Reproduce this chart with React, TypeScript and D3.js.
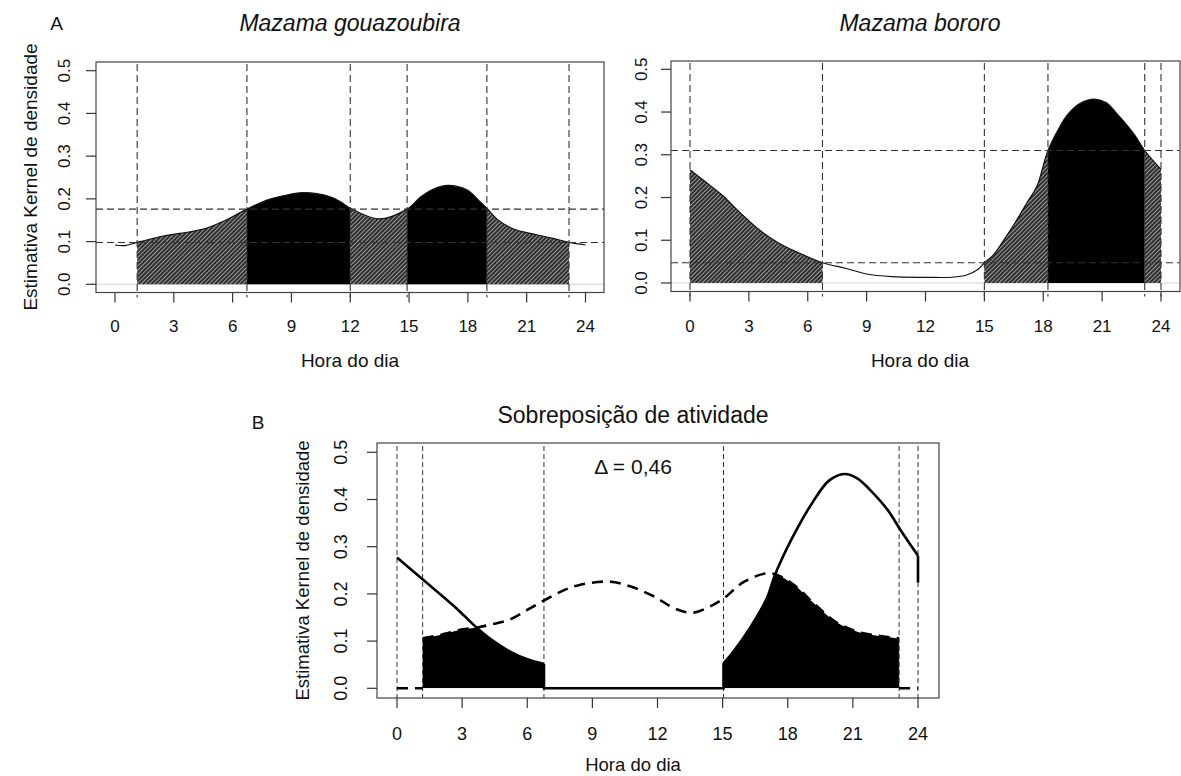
import React from "react";
import * as d3 from "d3";

// ---------- shared axis data ----------
const hourTicks = [0, 3, 6, 9, 12, 15, 18, 21, 24];
const densityTicks = [0, 0.1, 0.2, 0.3, 0.4, 0.5];
const densityTickLabels = ["0.0", "0.1", "0.2", "0.3", "0.4", "0.5"];

// ---------- Panel A: Mazama gouazoubira ----------
const gouHours = [0, 0.5, 1.13, 2.0, 2.46, 3.3, 4.5, 5.5, 6.73, 7.75, 8.77, 9.6, 10.97, 11.5, 12.0, 13.45, 14.9, 15.6, 16.2, 16.98, 17.95, 18.54, 18.97, 19.5, 20.3, 21.5, 22.4, 23.16, 24];
const gouDensity = [0.092, 0.0905, 0.098, 0.108, 0.113, 0.119, 0.129, 0.147, 0.176, 0.197, 0.209, 0.2146, 0.205, 0.193, 0.178, 0.153, 0.176, 0.205, 0.222, 0.2315, 0.221, 0.197, 0.178, 0.152, 0.13, 0.116, 0.107, 0.098, 0.092];
const gouCutLines = [1.13, 6.73, 12.0, 14.9, 18.97, 23.16];
const gouLevels = [0.098, 0.176];
const gouHatched = [[1.13, 6.73], [12.0, 14.9], [18.97, 23.16]];
const gouBlack = [[6.73, 12.0], [14.9, 18.97]];

// ---------- Panel A: Mazama bororo ----------
const borHours = [0, 0.67, 1.63, 2.59, 3.54, 4.51, 5.47, 6.75, 7.97, 9.0, 10.27, 12.0, 13.35, 14.1, 14.68, 15.0, 15.46, 16.1, 16.65, 17.16, 17.67, 18.24, 18.85, 19.19, 19.8, 20.55, 21.2, 21.74, 22.6, 23.17, 24];
const borDensity = [0.265, 0.241, 0.206, 0.163, 0.124, 0.0937, 0.0719, 0.0475, 0.034, 0.021, 0.0148, 0.0133, 0.0135, 0.0187, 0.032, 0.0475, 0.0656, 0.108, 0.1475, 0.187, 0.2255, 0.31, 0.366, 0.391, 0.418, 0.43, 0.422, 0.397, 0.35, 0.31, 0.266];
const borCutLines = [0, 6.75, 15.0, 18.24, 23.17, 24];
const borLevels = [0.0475, 0.31];
const borHatched = [[0, 6.75], [15.0, 18.24], [23.17, 24]];
const borBlack = [[18.24, 23.17]];

// ---------- Panel B: overlap ----------
const ovBorMorningHours = [0, 1.18, 2.02, 2.82, 3.62, 4.41, 5.21, 6.0, 6.77];
const ovBorMorningDensity = [0.277, 0.231, 0.198, 0.166, 0.1306, 0.101, 0.0776, 0.0614, 0.0515];
const ovBorEveningHours = [15.04, 15.5, 16.26, 17.03, 17.41, 18.2, 19.2, 19.9, 20.6, 21.2, 21.8, 22.6, 23.2, 24];
const ovBorEveningDensity = [0.053, 0.078, 0.128, 0.19, 0.24, 0.318, 0.398, 0.44, 0.454, 0.445, 0.42, 0.378, 0.335, 0.281];
const ovBorZeroRange = [6.77, 15.04];
const ovBorEndDrop = [0.281, 0.224];
const ovGouHours = [1.18, 2.0, 3.02, 3.7, 4.41, 5.21, 6.0, 6.77, 7.6, 8.41, 9.8, 10.8, 11.8, 12.8, 13.6, 14.4, 15.04, 16.0, 17.2, 18.2, 19.2, 20.2, 21.2, 22.2, 23.13];
const ovGouDensity = [0.106, 0.113, 0.125, 0.129, 0.136, 0.146, 0.166, 0.186, 0.206, 0.219, 0.226, 0.215, 0.1955, 0.169, 0.16, 0.173, 0.19, 0.226, 0.2436, 0.222, 0.18, 0.141, 0.12, 0.111, 0.106];
const ovGouZeroRanges = [[0, 1.18], [23.13, 24]];
const ovCutLines = [0, 1.18, 6.77, 15.04, 23.13, 24];
const overlapLabel = "\u0394 = 0,46";

const FONT = "'Liberation Sans', Arial, Helvetica, sans-serif";
const curve = d3.curveCatmullRom.alpha(0.5);

type Frame = { x0: number; x1: number; y0: number; y1: number };

function Axes({ frame, x, y, tickFont, yTickX, xTickY }: any) {
  return (
    <g>
      <rect x={frame.x0} y={frame.y0} width={frame.x1 - frame.x0} height={frame.y1 - frame.y0} fill="none" stroke="#444" strokeWidth={1.2} />
      {hourTicks.map((h) => (
        <g key={"xt" + h}>
          <line x1={x(h)} x2={x(h)} y1={frame.y1} y2={frame.y1 + 10} stroke="#333" strokeWidth={1.2} />
          <text x={x(h)} y={xTickY} textAnchor="middle" fontSize={tickFont} fill="#111" fontFamily={FONT}>{h}</text>
        </g>
      ))}
      {densityTicks.map((v, i) => (
        <g key={"yt" + v}>
          <line x1={frame.x0} x2={frame.x0 - 10} y1={y(v)} y2={y(v)} stroke="#333" strokeWidth={1.2} />
          <text transform={`translate(${yTickX},${y(v)}) rotate(-90)`} textAnchor="middle" fontSize={tickFont} fill="#111" fontFamily={FONT}>{densityTickLabels[i]}</text>
        </g>
      ))}
    </g>
  );
}

function PanelA({ id, frame, xr, yr, hours, dens, cuts, levels, hatched, black, yTickX, xTickY }: any) {
  const x = d3.scaleLinear().domain([0, 24]).range(xr);
  const y = d3.scaleLinear().domain([0, 0.5]).range(yr);
  const pts: [number, number][] = hours.map((h: number, i: number) => [h, dens[i]]);
  const line = d3.line<[number, number]>().x((d) => x(d[0])).y((d) => y(d[1])).curve(curve);
  const area = d3.area<[number, number]>().x((d) => x(d[0])).y0(y(0)).y1((d) => y(d[1])).curve(curve);
  const h = frame.y1 - frame.y0;
  return (
    <g>
      <defs>
        <clipPath id={id + "-hatch"}>
          {hatched.map((r: number[], i: number) => (
            <rect key={i} x={x(r[0])} y={frame.y0} width={x(r[1]) - x(r[0])} height={h} />
          ))}
        </clipPath>
        <clipPath id={id + "-black"}>
          {black.map((r: number[], i: number) => (
            <rect key={i} x={x(r[0])} y={frame.y0} width={x(r[1]) - x(r[0])} height={h} />
          ))}
        </clipPath>
      </defs>
      <line x1={frame.x0} x2={frame.x1} y1={y(0)} y2={y(0)} stroke="#d2d2d2" strokeWidth={1} />
      <path d={area(pts) || ""} fill="url(#hatch)" clipPath={`url(#${id}-hatch)`} />
      <path d={area(pts) || ""} fill="#000" clipPath={`url(#${id}-black)`} />
      <path d={line(pts) || ""} fill="none" stroke="#111" strokeWidth={1.2} />
      {levels.map((v: number) => (
        <line key={"lv" + v} x1={frame.x0} x2={frame.x1} y1={y(v)} y2={y(v)} stroke="#333" strokeWidth={1.1} strokeDasharray="7,4" />
      ))}
      {cuts.map((c: number) => (
        <line key={"ct" + c} x1={x(c)} x2={x(c)} y1={frame.y0 + 2} y2={frame.y1 + 5} stroke="#333" strokeWidth={1.1} strokeDasharray="7,4" />
      ))}
      <Axes frame={frame} x={x} y={y} tickFont={17} yTickX={yTickX} xTickY={xTickY} />
    </g>
  );
}

function PanelB() {
  const frame: Frame = { x0: 377, x1: 939, y0: 443, y1: 698 };
  const x = d3.scaleLinear().domain([0, 24]).range([397, 918]);
  const y = d3.scaleLinear().domain([0, 0.5]).range([688.3, 452.3]);
  const morning: [number, number][] = ovBorMorningHours.map((h, i) => [h, ovBorMorningDensity[i]]);
  const evening: [number, number][] = ovBorEveningHours.map((h, i) => [h, ovBorEveningDensity[i]]);
  const gou: [number, number][] = ovGouHours.map((h, i) => [h, ovGouDensity[i]]);
  const line = d3.line<[number, number]>().x((d) => x(d[0])).y((d) => y(d[1])).curve(curve);
  const lin = d3.line<[number, number]>().x((d) => x(d[0])).y((d) => y(d[1]));
  const area = d3.area<[number, number]>().x((d) => x(d[0])).y0(y(0)).y1((d) => y(d[1])).curve(curve);
  const zeroBor: [number, number][] = [
    [ovBorZeroRange[0], ovBorMorningDensity[ovBorMorningDensity.length - 1]],
    [ovBorZeroRange[0], 0],
    [ovBorZeroRange[1], 0],
    [ovBorZeroRange[1], ovBorEveningDensity[0]],
  ];
  const endDrop: [number, number][] = [[24, ovBorEndDrop[0]], [24, ovBorEndDrop[1]]];
  return (
    <g>
      <defs>
        <clipPath id="borArea">
          <path d={area(morning) || ""} />
          <path d={area(evening) || ""} />
        </clipPath>
      </defs>
      <path d={area(gou) || ""} fill="#000" clipPath="url(#borArea)" />
      {ovCutLines.map((c) => (
        <line key={"bc" + c} x1={x(c)} x2={x(c)} y1={frame.y0 + 3} y2={frame.y1} stroke="#333" strokeWidth={1} strokeDasharray="5,3" />
      ))}
      <path d={line(morning) || ""} fill="none" stroke="#000" strokeWidth={2.6} />
      <path d={line(evening) || ""} fill="none" stroke="#000" strokeWidth={2.6} />
      <path d={lin(zeroBor) || ""} fill="none" stroke="#000" strokeWidth={2.6} />
      <path d={lin(endDrop) || ""} fill="none" stroke="#000" strokeWidth={2.6} />
      <path d={line(gou) || ""} fill="none" stroke="#000" strokeWidth={2.6} strokeDasharray="11,7" />
      {ovGouZeroRanges.map((r, i) => (
        <path key={"gz" + i} d={lin([[r[0], 0], [r[1], 0]]) || ""} fill="none" stroke="#000" strokeWidth={2.6} strokeDasharray="11,7" />
      ))}
      <text x={633} y={473.5} textAnchor="middle" fontSize={21} fontFamily={FONT} fill="#111">{overlapLabel}</text>
      <Axes frame={frame} x={x} y={y} tickFont={18} yTickX={346.5} xTickY={739.5} />
      <text x={633} y={423} textAnchor="middle" fontSize={23} fontFamily={FONT} fill="#111">Sobreposição de atividade</text>
      <text x={258} y={429} textAnchor="middle" fontSize={19} fontFamily={FONT} fill="#111">B</text>
      <text transform={`translate(309,${(frame.y0 + frame.y1) / 2}) rotate(-90)`} textAnchor="middle" fontSize={18.5} fontFamily={FONT} fill="#111">Estimativa Kernel de densidade</text>
      <text x={633} y={771} textAnchor="middle" fontSize={18.5} fontFamily={FONT} fill="#111">Hora do dia</text>
    </g>
  );
}

export default function App() {
  const fL: Frame = { x0: 96, x1: 604, y0: 62, y1: 292.5 };
  const fR: Frame = { x0: 671, x1: 1180, y0: 61, y1: 291.5 };
  return (
    <svg width={1181} height={776} style={{ position: "absolute", left: 0, top: 0, background: "#fff" }} fontFamily={FONT}>
      <defs>
        <pattern id="hatch" width="3" height="3" patternUnits="userSpaceOnUse" patternTransform="rotate(45)">
          <rect width="3" height="3" fill="#2e2e2e" />
          <rect width="0.9" height="3" fill="#a8a8a8" />
        </pattern>
      </defs>
      <rect width={1181} height={776} fill="#fff" />
      <PanelA id="gou" frame={fL} xr={[115, 585.5]} yr={[284.3, 70.7]} hours={gouHours} dens={gouDensity} cuts={gouCutLines} levels={gouLevels} hatched={gouHatched} black={gouBlack} yTickX={69.5} xTickY={331.5} />
      <PanelA id="bor" frame={fR} xr={[690, 1161]} yr={[283, 69.3]} hours={borHours} dens={borDensity} cuts={borCutLines} levels={borLevels} hatched={borHatched} black={borBlack} yTickX={646.5} xTickY={331.5} />
      <text x={56.5} y={30} textAnchor="middle" fontSize={19} fill="#111">A</text>
      <text x={350} y={31} textAnchor="middle" fontSize={23} fontStyle="italic" fill="#111">Mazama gouazoubira</text>
      <text x={920} y={31} textAnchor="middle" fontSize={23} fontStyle="italic" fill="#111">Mazama bororo</text>
      <text transform={`translate(37,177) rotate(-90)`} textAnchor="middle" fontSize={19} fill="#111">Estimativa Kernel de densidade</text>
      <text x={350} y={367} textAnchor="middle" fontSize={19} fill="#111">Hora do dia</text>
      <text x={920} y={367} textAnchor="middle" fontSize={19} fill="#111">Hora do dia</text>
      <PanelB />
    </svg>
  );
}
